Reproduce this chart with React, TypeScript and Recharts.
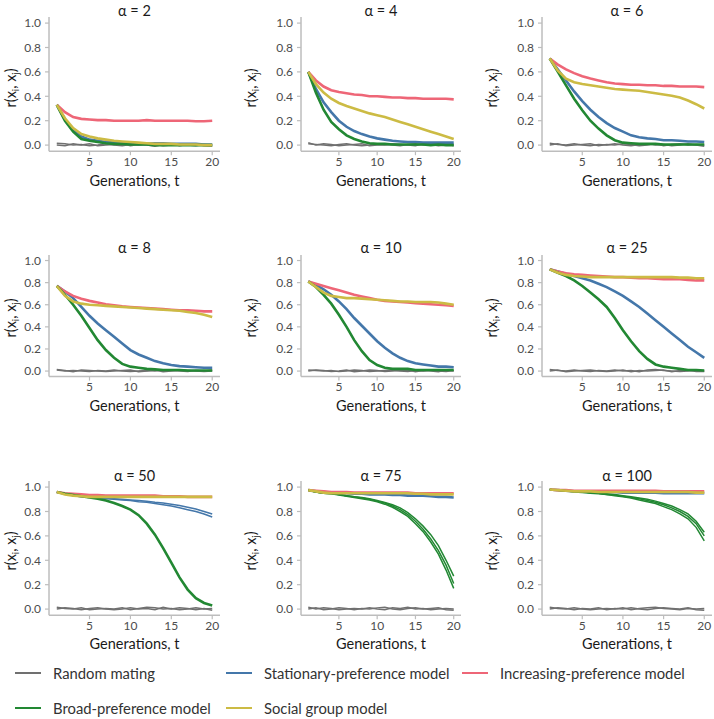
import React from "react";
import { LineChart, Line, XAxis, YAxis } from "recharts";

// generations on the x axis
const generations = [1, 2, 3, 4, 5, 6, 7, 8, 9, 10, 11, 12, 13, 14, 15, 16, 17, 18, 19, 20];
const xTicks = [5, 10, 15, 20];
const yTicks = [0, 0.2, 0.4, 0.6, 0.8, 1.0];

const COLORS = {
  random: "#707070",
  stationary: "#4477AA",
  increasing: "#EE6677",
  broad: "#228833",
  social: "#CCBB44",
};

// alpha = 2
const a2Random1 = [0.015, 0.01, 0.0, 0.005, -0.005, 0.0, 0.01, 0.0, -0.005, 0.005, 0.0, 0.01, 0.005, -0.005, 0.0, 0.01, 0.0, -0.005, 0.005, 0.0];
const a2Random2 = [0.0, -0.005, 0.01, 0.0, 0.01, -0.005, 0.0, 0.005, 0.01, -0.005, 0.005, 0.0, -0.01, 0.005, 0.01, -0.005, 0.005, 0.01, -0.005, -0.01];
const a2Stationary = [0.33, 0.21, 0.12, 0.07, 0.045, 0.035, 0.025, 0.02, 0.015, 0.015, 0.01, 0.01, 0.015, 0.015, 0.01, 0.01, 0.01, 0.01, 0.005, 0.005];
const a2Increasing = [0.33, 0.27, 0.23, 0.215, 0.21, 0.205, 0.205, 0.2, 0.2, 0.2, 0.2, 0.205, 0.2, 0.2, 0.2, 0.2, 0.2, 0.195, 0.195, 0.2];
const a2Broad = [0.33, 0.2, 0.11, 0.05, 0.035, 0.025, 0.015, 0.01, 0.01, 0.005, 0.005, 0.005, 0.0, 0.0, 0.0, 0.0, 0.0, 0.0, 0.0, 0.0];
const a2Social = [0.33, 0.22, 0.14, 0.09, 0.07, 0.055, 0.045, 0.035, 0.03, 0.025, 0.02, 0.015, 0.01, 0.01, 0.01, 0.005, 0.005, 0.005, 0.0, 0.0];

// alpha = 4
const a4Random1 = [0.01, 0.005, 0.0, -0.005, 0.005, 0.01, 0.0, -0.005, 0.0, 0.01, 0.005, 0.0, -0.005, 0.005, 0.01, 0.0, 0.005, -0.005, 0.0, 0.005];
const a4Random2 = [0.02, 0.0, 0.01, 0.005, -0.005, 0.0, 0.005, 0.01, -0.005, 0.0, 0.0, 0.01, 0.005, 0.0, -0.005, 0.01, 0.0, 0.005, 0.01, -0.005];
const a4Stationary = [0.6, 0.46, 0.35, 0.27, 0.2, 0.15, 0.115, 0.09, 0.07, 0.055, 0.045, 0.035, 0.03, 0.025, 0.025, 0.02, 0.02, 0.02, 0.02, 0.02];
const a4Increasing = [0.6, 0.53, 0.48, 0.45, 0.435, 0.425, 0.415, 0.41, 0.4, 0.4, 0.395, 0.39, 0.39, 0.385, 0.385, 0.38, 0.38, 0.38, 0.38, 0.375];
const a4Broad = [0.6, 0.43, 0.29, 0.19, 0.13, 0.08, 0.05, 0.03, 0.015, 0.01, 0.01, 0.005, 0.005, 0.005, 0.005, 0.005, 0.0, 0.005, 0.0, 0.0];
const a4Social = [0.6, 0.5, 0.43, 0.38, 0.345, 0.32, 0.3, 0.28, 0.26, 0.245, 0.23, 0.21, 0.19, 0.17, 0.15, 0.13, 0.11, 0.09, 0.07, 0.05];

// alpha = 6
const a6Random1 = [0.015, 0.005, 0.0, 0.01, 0.0, -0.005, 0.005, 0.0, 0.01, 0.0, -0.005, 0.005, 0.01, 0.0, 0.005, -0.005, 0.0, 0.01, 0.0, -0.01];
const a6Random2 = [0.0, 0.01, -0.005, 0.0, 0.005, 0.01, -0.005, 0.005, 0.0, 0.01, 0.005, -0.005, 0.0, 0.01, -0.005, 0.005, 0.01, 0.0, 0.005, 0.0];
const a6Stationary = [0.71, 0.62, 0.53, 0.44, 0.36, 0.29, 0.23, 0.18, 0.14, 0.11, 0.08, 0.065, 0.055, 0.05, 0.04, 0.04, 0.035, 0.03, 0.03, 0.025];
const a6Increasing = [0.71, 0.66, 0.62, 0.59, 0.565, 0.545, 0.53, 0.515, 0.505, 0.5, 0.495, 0.495, 0.49, 0.49, 0.485, 0.485, 0.48, 0.48, 0.48, 0.475];
const a6Broad = [0.71, 0.6, 0.49, 0.38, 0.285, 0.2, 0.135, 0.08, 0.04, 0.02, 0.015, 0.01, 0.01, 0.01, 0.005, 0.005, 0.005, 0.005, 0.005, 0.005];
const a6Social = [0.71, 0.61, 0.545, 0.515, 0.5, 0.49, 0.48, 0.47, 0.46, 0.455, 0.45, 0.445, 0.435, 0.425, 0.415, 0.405, 0.39, 0.365, 0.335, 0.3];

// alpha = 8
const a8Random1 = [0.01, 0.0, 0.005, 0.0, -0.005, 0.005, 0.0, 0.01, 0.0, -0.005, 0.0, 0.005, 0.0, 0.01, 0.005, 0.0, -0.005, 0.005, 0.0, 0.01];
const a8Random2 = [0.015, 0.005, -0.005, 0.01, 0.005, 0.0, -0.005, 0.0, 0.005, 0.01, -0.005, 0.0, 0.01, -0.005, 0.0, 0.01, 0.005, 0.0, -0.005, 0.0];
const a8Stationary = [0.77, 0.72, 0.66, 0.58, 0.5, 0.43, 0.37, 0.31, 0.25, 0.19, 0.15, 0.12, 0.09, 0.07, 0.055, 0.045, 0.04, 0.035, 0.03, 0.03];
const a8Increasing = [0.77, 0.72, 0.68, 0.655, 0.635, 0.62, 0.605, 0.595, 0.585, 0.58, 0.575, 0.57, 0.565, 0.56, 0.555, 0.55, 0.55, 0.545, 0.54, 0.54];
const a8Broad = [0.77, 0.69, 0.6, 0.5, 0.39, 0.28, 0.19, 0.12, 0.065, 0.04, 0.03, 0.02, 0.015, 0.01, 0.01, 0.01, 0.005, 0.005, 0.005, 0.005];
const a8Social = [0.77, 0.68, 0.63, 0.61, 0.6, 0.595, 0.59, 0.585, 0.58, 0.575, 0.57, 0.565, 0.56, 0.555, 0.55, 0.545, 0.535, 0.525, 0.51, 0.49];

// alpha = 10
const a10Random1 = [0.01, 0.005, 0.0, 0.005, -0.005, 0.0, 0.01, 0.005, -0.005, 0.0, 0.005, 0.01, 0.0, -0.005, 0.005, 0.0, 0.01, 0.0, -0.005, 0.005];
const a10Random2 = [0.0, 0.01, 0.005, -0.005, 0.0, 0.01, -0.005, 0.0, 0.01, 0.005, -0.005, 0.0, 0.005, 0.01, -0.005, 0.005, 0.0, -0.005, 0.01, 0.0];
const a10Stationary = [0.81, 0.78, 0.74, 0.69, 0.63, 0.56, 0.48, 0.41, 0.34, 0.27, 0.21, 0.16, 0.12, 0.09, 0.07, 0.06, 0.05, 0.04, 0.04, 0.035];
const a10Increasing = [0.81, 0.79, 0.77, 0.75, 0.73, 0.71, 0.69, 0.675, 0.66, 0.645, 0.635, 0.63, 0.625, 0.62, 0.615, 0.61, 0.605, 0.6, 0.595, 0.59];
const a10Broad = [0.81, 0.76, 0.69, 0.61, 0.51, 0.4, 0.28, 0.18, 0.1, 0.055, 0.03, 0.02, 0.02, 0.02, 0.01, 0.01, 0.01, 0.01, 0.01, 0.01];
const a10Social = [0.81, 0.76, 0.71, 0.68, 0.67, 0.66, 0.66, 0.655, 0.65, 0.645, 0.64, 0.635, 0.63, 0.63, 0.625, 0.625, 0.625, 0.62, 0.61, 0.6];

// alpha = 25
const a25Random1 = [0.015, 0.005, 0.0, 0.01, 0.0, -0.005, 0.005, 0.0, 0.01, 0.0, 0.005, -0.005, 0.01, 0.015, 0.005, 0.0, -0.005, 0.0, 0.005, 0.0];
const a25Random2 = [0.0, 0.01, -0.005, 0.0, 0.005, 0.01, 0.0, -0.005, 0.0, 0.01, -0.005, 0.005, 0.0, 0.005, 0.01, -0.005, 0.005, 0.01, -0.005, -0.005];
const a25Stationary = [0.92, 0.9, 0.88, 0.86, 0.84, 0.82, 0.79, 0.76, 0.72, 0.68, 0.63, 0.58, 0.52, 0.46, 0.4, 0.34, 0.28, 0.22, 0.17, 0.12];
const a25Increasing = [0.92, 0.9, 0.885, 0.875, 0.87, 0.865, 0.86, 0.855, 0.85, 0.85, 0.845, 0.84, 0.84, 0.835, 0.83, 0.83, 0.83, 0.825, 0.82, 0.82];
const a25Broad = [0.92, 0.89, 0.86, 0.82, 0.77, 0.71, 0.65, 0.58, 0.48, 0.37, 0.27, 0.18, 0.11, 0.06, 0.04, 0.03, 0.02, 0.01, 0.01, 0.005];
const a25Social = [0.92, 0.89, 0.87, 0.86, 0.855, 0.85, 0.85, 0.85, 0.85, 0.85, 0.85, 0.85, 0.85, 0.85, 0.85, 0.85, 0.845, 0.845, 0.84, 0.84];

// alpha = 50
const a50Random1 = [0.015, 0.005, 0.0, 0.01, -0.005, 0.0, 0.005, 0.0, 0.01, -0.005, 0.005, 0.015, 0.01, 0.0, 0.005, -0.005, 0.0, 0.01, 0.0, 0.005];
const a50Random2 = [0.0, 0.01, 0.005, -0.005, 0.005, 0.01, 0.0, -0.005, 0.0, 0.01, 0.0, 0.005, -0.005, 0.015, 0.0, 0.01, 0.005, -0.005, 0.005, -0.01];
const a50Stationary1 = [0.96, 0.945, 0.935, 0.925, 0.92, 0.915, 0.91, 0.905, 0.9, 0.895, 0.89, 0.885, 0.875, 0.87, 0.86, 0.85, 0.835, 0.82, 0.8, 0.78];
const a50Stationary2 = [0.96, 0.945, 0.93, 0.92, 0.915, 0.91, 0.905, 0.9, 0.895, 0.89, 0.88, 0.875, 0.865, 0.855, 0.845, 0.83, 0.815, 0.8, 0.78, 0.755];
const a50Increasing = [0.96, 0.95, 0.945, 0.94, 0.935, 0.935, 0.93, 0.93, 0.93, 0.93, 0.93, 0.93, 0.93, 0.925, 0.925, 0.925, 0.92, 0.92, 0.92, 0.92];
const a50Broad = [0.96, 0.945, 0.935, 0.925, 0.915, 0.905, 0.89, 0.87, 0.845, 0.815, 0.77, 0.7, 0.61, 0.5, 0.38, 0.26, 0.16, 0.09, 0.05, 0.03];
const a50Social = [0.96, 0.94, 0.93, 0.925, 0.92, 0.92, 0.92, 0.92, 0.92, 0.92, 0.92, 0.92, 0.92, 0.92, 0.92, 0.92, 0.92, 0.92, 0.92, 0.92];

// alpha = 75
const a75Random1 = [0.015, 0.0, 0.01, 0.005, -0.005, 0.0, 0.005, 0.0, 0.01, 0.0, -0.005, 0.01, 0.005, 0.015, 0.0, 0.005, -0.005, 0.0, 0.005, 0.0];
const a75Random2 = [0.0, 0.01, -0.005, 0.0, 0.01, 0.005, -0.005, 0.005, 0.0, 0.01, 0.015, 0.0, -0.005, 0.005, 0.01, 0.0, 0.005, 0.01, -0.005, -0.01];
const a75Stationary = [0.975, 0.965, 0.96, 0.955, 0.95, 0.95, 0.945, 0.945, 0.94, 0.94, 0.94, 0.935, 0.935, 0.93, 0.93, 0.93, 0.925, 0.92, 0.92, 0.915];
const a75Increasing = [0.975, 0.97, 0.965, 0.96, 0.96, 0.96, 0.955, 0.955, 0.955, 0.955, 0.955, 0.955, 0.955, 0.955, 0.95, 0.95, 0.95, 0.95, 0.95, 0.95];
const a75Broad1 = [0.975, 0.96, 0.95, 0.95, 0.94, 0.93, 0.92, 0.915, 0.905, 0.89, 0.875, 0.855, 0.83, 0.79, 0.74, 0.68, 0.61, 0.52, 0.4, 0.27];
const a75Broad2 = [0.975, 0.96, 0.95, 0.945, 0.94, 0.93, 0.92, 0.91, 0.9, 0.885, 0.87, 0.845, 0.815, 0.775, 0.72, 0.655, 0.575, 0.48, 0.36, 0.21];
const a75Broad3 = [0.975, 0.96, 0.95, 0.945, 0.935, 0.925, 0.915, 0.905, 0.895, 0.88, 0.86, 0.835, 0.8, 0.76, 0.7, 0.635, 0.55, 0.45, 0.32, 0.17];
const a75Social = [0.975, 0.965, 0.955, 0.95, 0.95, 0.95, 0.95, 0.95, 0.95, 0.95, 0.95, 0.95, 0.95, 0.95, 0.945, 0.945, 0.94, 0.94, 0.94, 0.94];

// alpha = 100
const a100Random1 = [0.015, 0.005, 0.0, 0.01, 0.0, -0.005, 0.0, 0.005, 0.0, 0.01, -0.005, 0.005, 0.01, 0.015, 0.005, 0.0, -0.005, 0.005, 0.0, 0.005];
const a100Random2 = [0.0, 0.01, 0.005, -0.005, 0.005, 0.0, 0.01, -0.005, 0.005, 0.0, 0.01, 0.0, -0.005, 0.005, 0.01, 0.005, 0.0, 0.01, -0.005, -0.01];
const a100Stationary = [0.98, 0.975, 0.97, 0.965, 0.965, 0.96, 0.96, 0.96, 0.96, 0.955, 0.955, 0.955, 0.955, 0.955, 0.95, 0.95, 0.95, 0.95, 0.95, 0.95];
const a100Increasing = [0.98, 0.975, 0.975, 0.97, 0.97, 0.97, 0.97, 0.97, 0.97, 0.97, 0.97, 0.97, 0.97, 0.97, 0.965, 0.965, 0.965, 0.965, 0.965, 0.965];
const a100Broad1 = [0.98, 0.975, 0.97, 0.965, 0.96, 0.955, 0.95, 0.945, 0.94, 0.93, 0.92, 0.91, 0.9, 0.885, 0.865, 0.845, 0.815, 0.78, 0.72, 0.63];
const a100Broad2 = [0.98, 0.975, 0.97, 0.965, 0.96, 0.955, 0.95, 0.94, 0.935, 0.925, 0.915, 0.905, 0.89, 0.875, 0.855, 0.83, 0.8, 0.76, 0.7, 0.6];
const a100Broad3 = [0.98, 0.975, 0.97, 0.96, 0.955, 0.95, 0.945, 0.94, 0.93, 0.92, 0.91, 0.895, 0.88, 0.865, 0.84, 0.815, 0.78, 0.74, 0.67, 0.56];
const a100Social = [0.98, 0.975, 0.97, 0.965, 0.965, 0.965, 0.96, 0.96, 0.96, 0.96, 0.96, 0.96, 0.96, 0.96, 0.96, 0.96, 0.96, 0.96, 0.955, 0.955];

const legendItems = [
  { name: "Random mating", color: COLORS.random },
  { name: "Stationary-preference model", color: COLORS.stationary },
  { name: "Increasing-preference model", color: COLORS.increasing },
  { name: "Broad-preference model", color: COLORS.broad },
  { name: "Social group model", color: COLORS.social },
];

type Series = { values: number[]; color: string; width: number };

const rnd = (a: number[], b: number[]): Series[] => [
  { values: a, color: COLORS.random, width: 1.5 },
  { values: b, color: COLORS.random, width: 1.5 },
];
const main = (values: number[], color: string): Series => ({ values, color, width: 2.6 });
const rep = (values: number[], color: string): Series => ({ values, color, width: 1.5 });

const panels = [
  { title: "α = 2", series: [...rnd(a2Random1, a2Random2), main(a2Stationary, COLORS.stationary), main(a2Increasing, COLORS.increasing), main(a2Broad, COLORS.broad), main(a2Social, COLORS.social)] },
  { title: "α = 4", series: [...rnd(a4Random1, a4Random2), main(a4Stationary, COLORS.stationary), main(a4Increasing, COLORS.increasing), main(a4Broad, COLORS.broad), main(a4Social, COLORS.social)] },
  { title: "α = 6", series: [...rnd(a6Random1, a6Random2), main(a6Stationary, COLORS.stationary), main(a6Increasing, COLORS.increasing), main(a6Broad, COLORS.broad), main(a6Social, COLORS.social)] },
  { title: "α = 8", series: [...rnd(a8Random1, a8Random2), main(a8Stationary, COLORS.stationary), main(a8Increasing, COLORS.increasing), main(a8Broad, COLORS.broad), main(a8Social, COLORS.social)] },
  { title: "α = 10", series: [...rnd(a10Random1, a10Random2), main(a10Stationary, COLORS.stationary), main(a10Increasing, COLORS.increasing), main(a10Broad, COLORS.broad), main(a10Social, COLORS.social)] },
  { title: "α = 25", series: [...rnd(a25Random1, a25Random2), main(a25Stationary, COLORS.stationary), main(a25Increasing, COLORS.increasing), main(a25Broad, COLORS.broad), main(a25Social, COLORS.social)] },
  { title: "α = 50", series: [...rnd(a50Random1, a50Random2), rep(a50Stationary1, COLORS.stationary), rep(a50Stationary2, COLORS.stationary), main(a50Increasing, COLORS.increasing), main(a50Broad, COLORS.broad), main(a50Social, COLORS.social)] },
  { title: "α = 75", series: [...rnd(a75Random1, a75Random2), main(a75Stationary, COLORS.stationary), main(a75Increasing, COLORS.increasing), rep(a75Broad1, COLORS.broad), rep(a75Broad2, COLORS.broad), rep(a75Broad3, COLORS.broad), main(a75Social, COLORS.social)] },
  { title: "α = 100", series: [...rnd(a100Random1, a100Random2), main(a100Stationary, COLORS.stationary), main(a100Increasing, COLORS.increasing), rep(a100Broad1, COLORS.broad), rep(a100Broad2, COLORS.broad), rep(a100Broad3, COLORS.broad), main(a100Social, COLORS.social)] },
];

// panel geometry (plot area) per column / row
const colLeft = [49, 301, 542];
const colWidth = [171, 160, 170];
const rowTop = [16.6, 255.2, 480.6];
const rowHeight = [134.2, 121.6, 134.2];
const yLabelX = [13, 253, 494];
const yLabelY = [88, 318, 551];
const titleY = [9.5, 246.7, 475];
const xLabelY = [180, 405, 643];

const FONT = "Lato, 'Open Sans', sans-serif";
const AXIS = "#bdbdbd";
const Y_AXIS_W = 44;
const X_AXIS_H = 30;
const TOP = 4;
const RIGHT = 6;

function Panel({ idx }: { idx: number }) {
  const p = panels[idx];
  const c = idx % 3;
  const r = Math.floor(idx / 3);
  const data = generations.map((t, i) => {
    const row: Record<string, number> = { t };
    p.series.forEach((s, k) => (row["s" + k] = s.values[i]));
    return row;
  });
  const w = Y_AXIS_W + colWidth[c] + RIGHT;
  const h = TOP + rowHeight[r] + X_AXIS_H;
  const cx = colLeft[c] + colWidth[c] / 2;
  return (
    <>
      <div style={{ position: "absolute", left: colLeft[c] - Y_AXIS_W, top: rowTop[r] - TOP }}>
        <LineChart width={w} height={h} data={data} margin={{ top: TOP, right: RIGHT, bottom: 0, left: 0 }}>
          <XAxis
            dataKey="t"
            type="number"
            domain={[0.05, 20.95]}
            ticks={xTicks}
            interval={0}
            height={X_AXIS_H}
            tickSize={4}
            tickMargin={2}
            axisLine={{ stroke: AXIS, strokeWidth: 1.5 }}
            tickLine={{ stroke: AXIS, strokeWidth: 1.2 }}
            tick={{ fontSize: 12, fill: "#4d4d4d", fontFamily: FONT }}
          />
          <YAxis
            type="number"
            domain={[-0.05, 1.05]}
            ticks={yTicks}
            interval={0}
            width={Y_AXIS_W}
            tickSize={4}
            tickMargin={4}
            tickFormatter={(v: number) => v.toFixed(1)}
            axisLine={{ stroke: AXIS, strokeWidth: 1.5 }}
            tickLine={{ stroke: AXIS, strokeWidth: 1.2 }}
            tick={{ fontSize: 12, fill: "#4d4d4d", fontFamily: FONT }}
          />
          {p.series.map((s, k) => (
            <Line
              key={k}
              dataKey={"s" + k}
              type="linear"
              stroke={s.color}
              strokeWidth={s.width}
              dot={false}
              activeDot={false}
              isAnimationActive={false}
            />
          ))}
        </LineChart>
      </div>
      <div style={{ position: "absolute", left: cx, top: titleY[r], transform: "translate(-50%,-50%)", fontSize: 14.5, color: "#1a1a1a", whiteSpace: "nowrap" }}>
        {p.title}
      </div>
      <div style={{ position: "absolute", left: cx, top: xLabelY[r], transform: "translate(-50%,-50%)", fontSize: 14.5, color: "#1a1a1a", whiteSpace: "nowrap" }}>
        Generations, t
      </div>
      <div style={{ position: "absolute", left: yLabelX[c], top: yLabelY[r], transform: "translate(-50%,-50%) rotate(-90deg)", fontSize: 14.5, color: "#1a1a1a", whiteSpace: "nowrap", lineHeight: "17px" }}>
        r(x<sub style={{ fontSize: 9.5 }}>i</sub>, x<sub style={{ fontSize: 9.5 }}>j</sub>)
      </div>
    </>
  );
}

const legendPos = [
  { x: 15, y: 673 },
  { x: 226, y: 673 },
  { x: 462, y: 673 },
  { x: 15, y: 708 },
  { x: 226, y: 708 },
];

export default function App() {
  return (
    <div style={{ position: "absolute", left: 0, top: 0, width: 714, height: 719, background: "#fff", fontFamily: FONT, overflow: "hidden" }}>
      {panels.map((_, i) => (
        <Panel key={i} idx={i} />
      ))}
      {legendItems.map((it, i) => (
        <div key={it.name} style={{ position: "absolute", left: legendPos[i].x, top: legendPos[i].y, transform: "translateY(-50%)", display: "flex", alignItems: "center", whiteSpace: "nowrap" }}>
          <div style={{ width: 26, height: 2.5, background: it.color, marginRight: 12 }} />
          <span style={{ fontSize: 14.8, color: "#333" }}>{it.name}</span>
        </div>
      ))}
    </div>
  );
}
